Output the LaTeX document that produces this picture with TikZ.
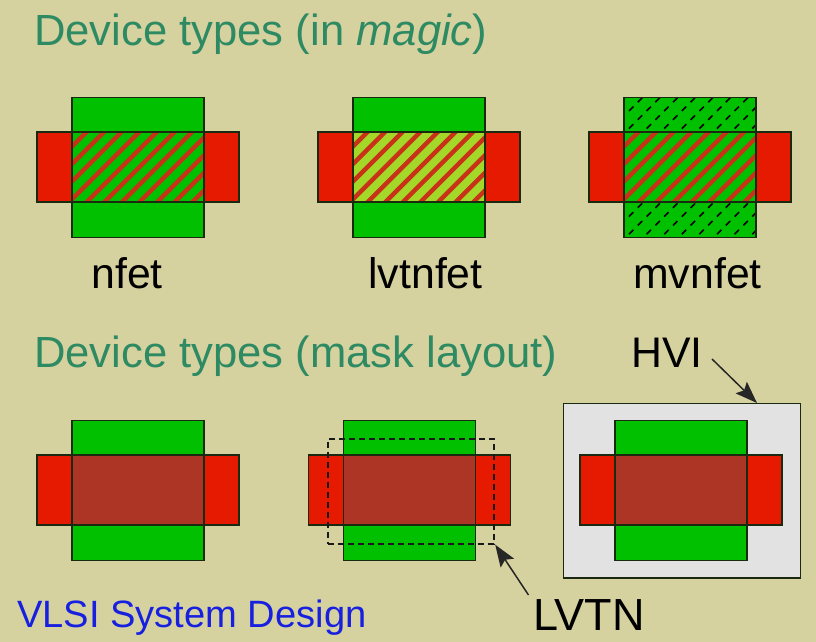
\documentclass[tikz,border=0pt]{standalone}
\usepackage{fontspec}
\setmainfont{Liberation Sans}
\usetikzlibrary{arrows.meta}
\definecolor{bgc}{HTML}{D6D2A0}
\definecolor{grn}{HTML}{00C000}
\definecolor{redc}{HTML}{E61A00}
\definecolor{overlap}{HTML}{AD3526}
\definecolor{stripe}{HTML}{C83218}
\definecolor{lime}{HTML}{A4D828}
\definecolor{hvigrey}{HTML}{E2E2E2}
\definecolor{teal}{HTML}{2E8A62}
\definecolor{vlsiblue}{HTML}{1820E0}
\definecolor{edge}{HTML}{1A2A10}
\tikzset{
  layer/.style={draw=edge,line width=1.2pt},
  title/.style={anchor=base west,inner sep=0pt,text=teal,font=\fontsize{43.6}{48}\selectfont},
  devlabel/.style={anchor=base,inner sep=0pt,text=black,font=\fontsize{42.8}{48}\selectfont},
  callout/.style={-{Stealth[length=22pt,width=16pt,inset=4pt]},draw=black!85,line width=1.5pt},
  stripeline/.style={stripe,line width=4.4pt},
  maskdash/.style={black!90,line width=2.2pt,dash pattern=on 6.5pt off 3.5pt}
}
% #1 left of red, #2 top of green
\newcommand{\basefet}[2]{%
  \fill[redc] (#1,#2+34) rectangle (#1+202,#2+104);
  \fill[grn] (#1+35,#2-0.5) rectangle (#1+167,#2+139.5);
}
\newcommand{\outlinefet}[2]{%
  \draw[layer] (#1,#2+34) rectangle (#1+202,#2+104);
  \draw[layer] (#1+35,#2-0.5) rectangle (#1+167,#2+139.5);
}
% hatched gate
\newcommand{\gatefet}[3]{%
  \basefet{#1}{#2}
  \fill[#3] (#1+35,#2+34) rectangle (#1+167,#2+104);
  \begin{scope}
    \clip (#1+35,#2+34) rectangle (#1+167,#2+104);
    \foreach \k in {-4,...,9} {
      \draw[stripeline] (#1+66+17.6*\k+40,#2+35-40) -- (#1+66+17.6*\k-90,#2+35+90);
    }
  \end{scope}
}
\begin{document}
\begin{tikzpicture}[x=1pt,y=-1pt]
\useasboundingbox (0,0) rectangle (816,642);
\fill[bgc] (0,0) rectangle (816,642);

\node[title] (t1) at (34,45.5) {Device types (in \textit{magic})};
\node[title] (t2) at (34,367.5) {Device types (mask layout)};

% top row
\gatefet{37}{98}{grn}
\outlinefet{37}{98}
\gatefet{318}{98}{lime}
\outlinefet{318}{98}
\gatefet{589}{98}{grn}
\begin{scope}
  \clip (624,98) rectangle (756,132) (624,202) rectangle (756,237);
  \foreach \j in {0,...,16} {
    \foreach \i in {-1,...,15} {
      \draw[black,line width=1.6pt] (640-8.8*\j+17.6*\i+2.2,100+8.8*\j-2.2) -- (640-8.8*\j+17.6*\i-2.2,100+8.8*\j+2.2);
    }
  }
\end{scope}
\outlinefet{589}{98}

\node[devlabel] (nfet) at (127,288) {nfet};
\node[devlabel] (lvtnfet) at (425.5,288) {lvtnfet};
\node[devlabel] (mvnfet) at (697.5,288) {mvnfet};

% bottom row
\newcommand{\maskfet}[2]{%
  \basefet{#1}{#2}
  \fill[overlap] (#1+35,#2+34) rectangle (#1+167,#2+104);
  \outlinefet{#1}{#2}
}
\maskfet{37}{421}
\maskfet{308.5}{421}

\node[draw=edge,line width=1.3pt,fill=hvigrey,inner sep=0pt,minimum width=237pt,minimum height=174.5pt,anchor=north west] (hvibox) at (563,402.7) {};
\maskfet{580}{421}

\node[draw,maskdash,inner sep=0pt,minimum width=166.5pt,minimum height=104.5pt,anchor=north west] (lvtnbox) at (326.5,438) {};

\node[anchor=base west,inner sep=0pt,font=\fontsize{42.8}{48}\selectfont] (hvi) at (631,367) {HVI};
\node[anchor=base west,inner sep=0pt,font=\fontsize{45}{50}\selectfont] (lvtn) at (533,630) {LVTN};
\node[anchor=base west,inner sep=0pt,text=vlsiblue,font=\fontsize{38.1}{42}\selectfont] (vlsi) at (17,627) {VLSI System Design};

\coordinate (hvistart) at (712,359);
\coordinate (hviend) at (757,403);
\coordinate (lvtnstart) at (528.5,595);
\draw[callout] (hvistart) -- (hviend);
\draw[callout] (lvtnstart) -- (lvtnbox.south east);
\end{tikzpicture}
\end{document}
